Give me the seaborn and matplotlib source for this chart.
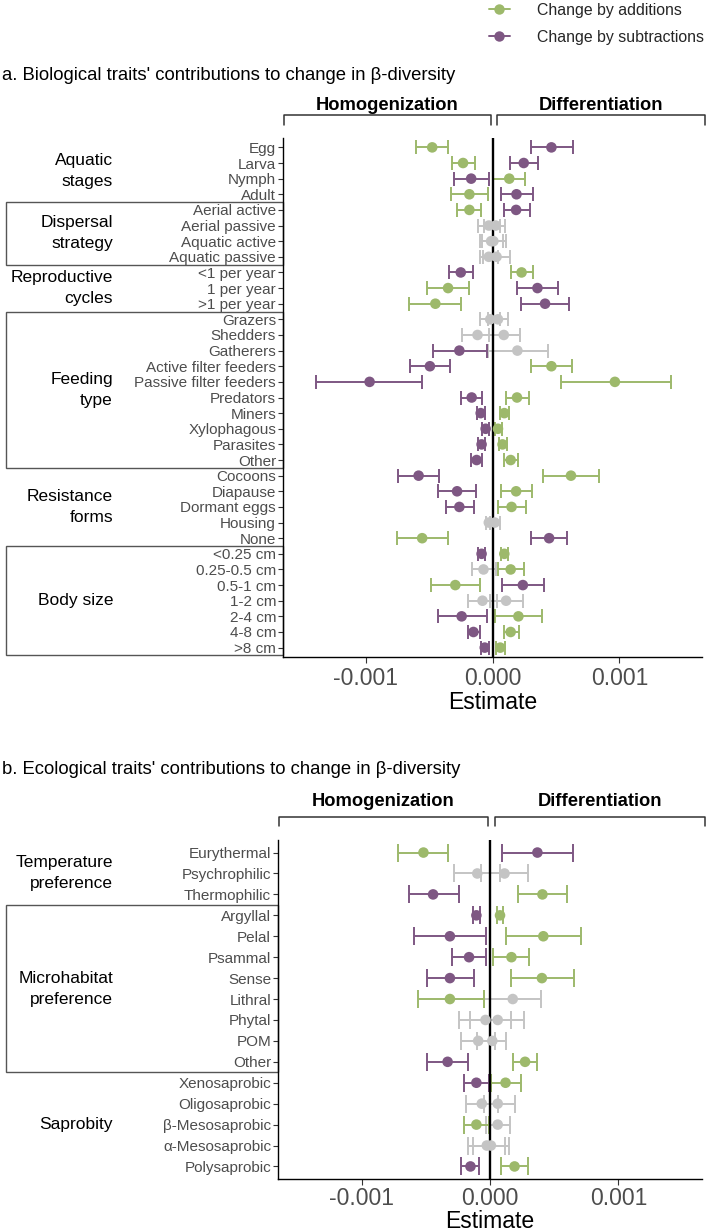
import numpy as np
import pandas as pd
import seaborn as sns
import matplotlib.pyplot as plt
from matplotlib.patches import Rectangle
from matplotlib.lines import Line2D
from matplotlib.ticker import FuncFormatter
from matplotlib.transforms import blended_transform_factory


# ==========================================
# 1. DATA (estimates in units of 1e-3)
# ==========================================

BIO_TRAITS = [
    'Egg', 'Larva', 'Nymph', 'Adult',
    'Aerial active', 'Aerial passive', 'Aquatic active', 'Aquatic passive',
    '<1 per year', '1 per year', '>1 per year',
    'Grazers', 'Shedders', 'Gatherers', 'Active filter feeders',
    'Passive filter feeders', 'Predators', 'Miners', 'Xylophagous',
    'Parasites', 'Other',
    'Cocoons', 'Diapause', 'Dormant eggs', 'Housing', 'None',
    '<0.25 cm', '0.25-0.5 cm', '0.5-1 cm', '1-2 cm', '2-4 cm', '4-8 cm', '>8 cm',
]
BIO_GROUPS = ['Aquatic\nstages', 'Dispersal\nstrategy', 'Reproductive\ncycles',
              'Feeding\ntype', 'Resistance\nforms', 'Body size']
BIO_GROUP_SIZES = [4, 4, 3, 10, 5, 7]

BIO_ADD_EST = [-0.475, -0.232, 0.132, -0.182, -0.182, 0.025, 0.007, 0.032,
               0.229, -0.350, -0.450, 0.043, 0.089, 0.196, 0.464, 0.964,
               0.193, 0.093, 0.043, 0.079, 0.143, 0.618, 0.186, 0.150,
               0.018, -0.554, 0.093, 0.143, -0.293, 0.107, 0.204, 0.143, 0.061]
BIO_ADD_LO = [-0.600, -0.321, 0.004, -0.325, -0.279, -0.064, -0.082, -0.071,
              0.143, -0.518, -0.654, -0.039, -0.029, -0.039, 0.307, 0.536,
              0.104, 0.061, 0.021, 0.050, 0.089, 0.400, 0.068, 0.043,
              -0.018, -0.754, 0.064, 0.043, -0.482, -0.018, 0.018, 0.093, 0.029]
BIO_ADD_HI = [-0.350, -0.136, 0.257, -0.039, -0.089, 0.096, 0.107, 0.139,
              0.318, -0.189, -0.250, 0.125, 0.214, 0.436, 0.625, 1.407,
              0.286, 0.129, 0.071, 0.111, 0.200, 0.836, 0.311, 0.264,
              0.057, -0.350, 0.121, 0.250, -0.100, 0.239, 0.389, 0.207, 0.096]

BIO_SUB_EST = [0.464, 0.246, -0.168, 0.189, 0.186, -0.029, -0.011, -0.029,
               -0.250, 0.354, 0.414, -0.018, -0.118, -0.261, -0.493, -0.968,
               -0.164, -0.093, -0.054, -0.086, -0.125, -0.582, -0.279, -0.261,
               -0.029, 0.446, -0.086, -0.071, 0.239, -0.079, -0.243, -0.150, -0.061]
BIO_SUB_LO = [0.304, 0.136, -0.307, 0.064, 0.089, -0.111, -0.100, -0.100,
              -0.339, 0.193, 0.221, -0.100, -0.243, -0.468, -0.646, -1.393,
              -0.250, -0.121, -0.079, -0.111, -0.171, -0.746, -0.432, -0.368,
              -0.054, 0.300, -0.111, -0.164, 0.071, -0.196, -0.429, -0.193, -0.093]
BIO_SUB_HI = [0.632, 0.357, -0.029, 0.321, 0.293, 0.060, 0.079, 0.043,
              -0.154, 0.514, 0.604, 0.061, 0.007, -0.046, -0.332, -0.554,
              -0.079, -0.061, -0.025, -0.057, -0.079, -0.421, -0.129, -0.146,
              0.007, 0.589, -0.057, 0.025, 0.407, 0.036, -0.046, -0.100, -0.029]

ECO_TRAITS = [
    'Eurythermal', 'Psychrophilic', 'Thermophilic',
    'Argyllal', 'Pelal', 'Psammal', 'Sense', 'Lithral', 'Phytal', 'POM', 'Other',
    'Xenosaprobic', 'Oligosaprobic', 'β-Mesosaprobic', 'α-Mesosaprobic', 'Polysaprobic',
]
ECO_GROUPS = ['Temperature\npreference', 'Microhabitat\npreference', 'Saprobity']
ECO_GROUP_SIZES = [3, 8, 5]

ECO_ADD_EST = [-0.518, 0.113, 0.408, 0.078, 0.415, 0.167, 0.404, -0.312,
               0.060, 0.018, 0.273, 0.121, 0.060, -0.106, 0.007, 0.191]
ECO_ADD_LO = [-0.713, -0.071, 0.220, 0.057, 0.121, 0.025, 0.160, -0.560,
              -0.152, -0.099, 0.177, 0.004, -0.046, -0.206, -0.135, 0.089]
ECO_ADD_HI = [-0.323, 0.298, 0.599, 0.103, 0.709, 0.301, 0.656, -0.046,
              0.262, 0.124, 0.369, 0.238, 0.191, -0.011, 0.149, 0.298]

ECO_SUB_EST = [0.369, -0.099, -0.443, -0.106, -0.312, -0.163, -0.312, 0.177,
               -0.035, -0.092, -0.330, -0.106, -0.064, 0.060, -0.025, -0.152]
ECO_SUB_LO = [0.096, -0.277, -0.631, -0.131, -0.589, -0.294, -0.489, -0.046,
              -0.241, -0.223, -0.489, -0.206, -0.188, -0.028, -0.170, -0.223]
ECO_SUB_HI = [0.645, 0.078, -0.245, -0.074, -0.028, -0.035, -0.128, 0.397,
              0.167, 0.039, -0.170, -0.004, 0.060, 0.156, 0.113, -0.082]

PALETTE = {'add': '#9DB96B', 'sub': '#7E5783', 'ns': '#C4C4C4'}
LEGEND_LABELS = {'add': 'Change by additions', 'sub': 'Change by subtractions'}

W, H = 709, 1232


# ==========================================
# 2. HELPERS
# ==========================================

def fx(x):
    return x / W


def fy(y):
    return 1 - y / H


def build_frame(traits, add, sub):
    parts = []
    for key, (est, lo, hi) in (('add', add), ('sub', sub)):
        d = pd.DataFrame({
            'trait': traits,
            'row': np.arange(len(traits)),
            'est': np.array(est) * 1e-3,
            'lo': np.array(lo) * 1e-3,
            'hi': np.array(hi) * 1e-3,
        })
        d['series'] = key
        sig = (d['lo'] > 0) | (d['hi'] < 0)
        d['shade'] = np.where(sig, key, 'ns')
        parts.append(d)
    return pd.concat(parts, ignore_index=True)


def draw_panel(fig, ax, traits, groups, sizes, add, sub, capsize, labelpad, xpad):
    df = build_frame(traits, add, sub)
    n = len(traits)

    # error bars first, then points on top
    for shade in ['ns', 'add', 'sub']:
        g = df[df['shade'] == shade]
        if g.empty:
            continue
        ax.errorbar(g['est'], g['row'],
                    xerr=[g['est'] - g['lo'], g['hi'] - g['est']],
                    fmt='none', ecolor=PALETTE[shade], elinewidth=1.4,
                    capsize=capsize, capthick=1.4, zorder=2)

    ax.axvline(0, color='black', lw=1.7, zorder=2.5)

    sns.scatterplot(data=df, x='est', y='row', hue='shade', palette=PALETTE,
                    s=58, linewidth=0, legend=False, ax=ax, zorder=3)

    ax.set_xlim(-0.00165, 0.00165)
    ax.set_ylim(n - 0.4, -0.6)
    ax.set_yticks(np.arange(n))
    ax.set_yticklabels(traits)
    ax.set_xticks([-0.001, 0, 0.001])
    ax.xaxis.set_major_formatter(FuncFormatter(lambda v, p: f"{v:.3f}"))
    ax.set_ylabel('')
    ax.set_xlabel('Estimate', fontsize=16.6, color='black', labelpad=labelpad)

    ax.tick_params(axis='y', labelsize=11, labelcolor='#4D4D4D', color='#333333',
                   length=3.5, width=0.8, pad=1.5)
    ax.tick_params(axis='x', labelsize=16.5, labelcolor='#4D4D4D', color='#333333',
                   length=4, width=0.8, pad=xpad)
    for s in ['top', 'right']:
        ax.spines[s].set_visible(False)
    for s in ['left', 'bottom']:
        ax.spines[s].set_color('black')
        ax.spines[s].set_linewidth(1.0)

    # group labels and boxes
    trans = blended_transform_factory(fig.transFigure, ax.transData)
    x0 = ax.get_position().x0
    start = 0
    for i, (label, size) in enumerate(zip(groups, sizes)):
        center = start + (size - 1) / 2
        ax.text(fx(113), center, label, transform=trans, ha='right', va='center',
                multialignment='right', fontsize=12.5, color='black', linespacing=1.5)
        if i % 2 == 1:
            top = start - 0.5
            bottom = min(start + size - 0.5, n - 0.4)
            ax.add_patch(Rectangle((fx(6), top), x0 - fx(6), bottom - top,
                                   transform=trans, fill=False, edgecolor='#555555',
                                   lw=1.0, clip_on=False))
        start += size


def draw_brackets(fig, ax, y_line, y_tick, y_text):
    trans = blended_transform_factory(ax.transAxes, fig.transFigure)
    for (a, b), label in (((0.002, 0.496), 'Homogenization'),
                          ((0.511, 1.007), 'Differentiation')):
        ax.add_line(Line2D([a, a, b, b], [fy(y_tick), fy(y_line), fy(y_line), fy(y_tick)],
                           transform=trans, color='#333333', lw=1.1, clip_on=False))
        ax.text((a + b) / 2, fy(y_text), label, transform=trans, ha='center',
                va='center', fontsize=13.2, fontweight='bold', color='black')


# ==========================================
# 3. FIGURE
# ==========================================

sns.set_style("ticks")
plt.rcParams['font.family'] = ['Liberation Sans', 'DejaVu Sans']

fig = plt.figure(figsize=(W / 100, H / 100), dpi=100)

ax_a = fig.add_axes([fx(283), fy(657), (702 - 283) / W, (657 - 138) / H])
ax_b = fig.add_axes([fx(278), fy(1179), (702 - 278) / W, (1179 - 840) / H])

draw_panel(fig, ax_a, BIO_TRAITS, BIO_GROUPS, BIO_GROUP_SIZES,
           (BIO_ADD_EST, BIO_ADD_LO, BIO_ADD_HI),
           (BIO_SUB_EST, BIO_SUB_LO, BIO_SUB_HI), capsize=4.7, labelpad=1, xpad=3)
draw_panel(fig, ax_b, ECO_TRAITS, ECO_GROUPS, ECO_GROUP_SIZES,
           (ECO_ADD_EST, ECO_ADD_LO, ECO_ADD_HI),
           (ECO_SUB_EST, ECO_SUB_LO, ECO_SUB_HI), capsize=6.4, labelpad=-0.5, xpad=2)

draw_brackets(fig, ax_a, y_line=115, y_tick=125, y_text=106)
draw_brackets(fig, ax_b, y_line=817, y_tick=826, y_text=801)

fig.text(fx(2), fy(75), "a. Biological traits' contributions to change in β-diversity",
         ha='left', va='center', fontsize=13.3, color='black')
fig.text(fx(2), fy(769), "b. Ecological traits' contributions to change in β-diversity",
         ha='left', va='center', fontsize=13.3, color='black')

handles = [Line2D([0], [0], color=PALETTE[k], lw=1.4, marker='o', markersize=7.5,
                  markeredgewidth=0) for k in ['add', 'sub']]
fig.legend(handles, [LEGEND_LABELS[k] for k in ['add', 'sub']],
           loc='upper left', bbox_to_anchor=(fx(489), fy(3)), frameon=False,
           fontsize=11.4, handlelength=1.3, handletextpad=1.75, labelspacing=0.75,
           borderpad=0, borderaxespad=0)

fig.savefig('out.png', dpi=100)
